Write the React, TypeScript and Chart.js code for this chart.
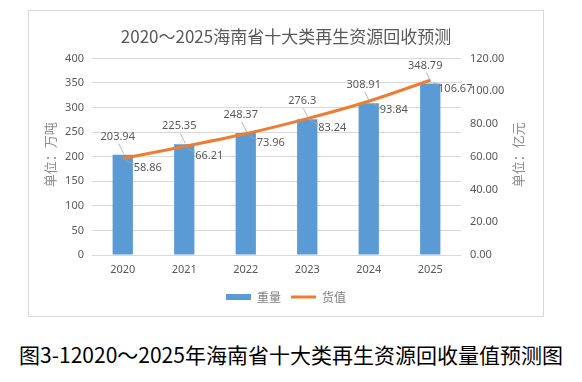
import React, { useEffect, useRef } from "react";
import { Chart, registerables } from "chart.js";

Chart.register(...registerables);

const years = ["2020", "2021", "2022", "2023", "2024", "2025"];
const weights = [203.94, 225.35, 248.37, 276.3, 308.91, 348.79];
const values = [58.86, 66.21, 73.96, 83.24, 93.84, 106.67];
const weightLabels = ["203.94", "225.35", "248.37", "276.3", "308.91", "348.79"];
const valueLabels = ["58.86", "66.21", "73.96", "83.24", "93.84", "106.67"];
const seriesNames = ["重量", "货值"];
const chartTitle = "2020～2025海南省十大类再生资源回收预测";
const leftAxisTitle = "单位：万吨";
const rightAxisTitle = "单位：亿元";
const caption = "图3-12020～2025年海南省十大类再生资源回收量值预测图";

const NUM_FONT = "'Noto Sans', 'Liberation Sans', sans-serif";
const CJK_FONT = "'Noto Sans CJK SC', 'Noto Sans', sans-serif";

const labelPlugin = {
  id: "dataLabels",
  afterDatasetsDraw(chart: any) {
    const ctx = chart.ctx;
    ctx.save();
    ctx.font = `11px ${NUM_FONT}`;
    ctx.textAlign = "center";
    ctx.textBaseline = "middle";
    const barMeta = chart.getDatasetMeta(0);
    const lineMeta = chart.getDatasetMeta(1);
    ctx.strokeStyle = "#a6a6a6";
    ctx.lineWidth = 0.8;
    barMeta.data.forEach((el: any, i: number) => {
      const lx = el.x - 5;
      const ly = el.y - 18;
      ctx.beginPath();
      ctx.moveTo(lx + 1, ly + 7);
      ctx.lineTo(el.x + 1, el.y - 1);
      ctx.stroke();
      ctx.fillStyle = "#595959";
      ctx.fillText(weightLabels[i], lx, ly);
    });
    lineMeta.data.forEach((el: any, i: number) => {
      const lx = el.x + 25;
      const ly = el.y + 9;
      ctx.beginPath();
      ctx.moveTo(lx - 14, ly - 3);
      ctx.lineTo(el.x + 3, el.y + 2);
      ctx.stroke();
      ctx.fillStyle = "#595959";
      ctx.fillText(valueLabels[i], lx, ly);
    });
    ctx.restore();
  },
};

const axisTitlePlugin = {
  id: "axisTitles",
  afterDraw(chart: any) {
    const ctx = chart.ctx;
    const area = chart.chartArea;
    const cy = (area.top + area.bottom) / 2 - 2;
    ctx.save();
    ctx.font = `13px ${CJK_FONT}`;
    ctx.fillStyle = "#8c8c8c";
    ctx.textAlign = "center";
    ctx.textBaseline = "middle";
    const draw = (text: string, x: number) => {
      ctx.save();
      ctx.translate(x, cy);
      ctx.rotate(-Math.PI / 2);
      ctx.fillText(text, 0, 0);
      ctx.restore();
    };
    draw(leftAxisTitle, 21);
    draw(rightAxisTitle, chart.width - 25);
    ctx.restore();
  },
};

export default function App() {
  const ref = useRef<HTMLCanvasElement | null>(null);
  useEffect(() => {
    if (!ref.current) return;
    const chart = new Chart(ref.current, {
      type: "bar",
      data: {
        labels: years,
        datasets: [
          {
            type: "bar",
            label: seriesNames[0],
            data: weights,
            backgroundColor: "#5B9BD5",
            borderWidth: 0,
            yAxisID: "y",
            barPercentage: 0.66,
            categoryPercentage: 0.5,
            order: 1,
            pointStyle: "rect",
          } as any,
          {
            type: "line",
            label: seriesNames[1],
            data: values,
            borderColor: "#ED7D31",
            backgroundColor: "#ED7D31",
            borderWidth: 3,
            pointRadius: 0,
            tension: 0.25,
            yAxisID: "y1",
            order: 0,
            pointStyle: "line",
          } as any,
        ],
      },
      options: {
        responsive: false,
        animation: false,
        layout: { padding: { left: 0, right: 0, top: 0, bottom: 3 } },
        plugins: {
          tooltip: { enabled: false },
          title: {
            display: true,
            text: chartTitle,
            color: "#595959",
            font: { size: 17, family: CJK_FONT, weight: "normal" },
            padding: { top: 15, bottom: 12 },
          },
          legend: {
            position: "bottom",
            labels: {
              usePointStyle: true,
              pointStyleWidth: 25,
              boxHeight: 6,
              color: "#7f7f7f",
              font: { size: 12, family: CJK_FONT },
              padding: 10,
              sort: (a: any, b: any) => a.datasetIndex - b.datasetIndex,
            },
          },
        },
        scales: {
          x: {
            grid: { display: false, drawTicks: false },
            border: { display: false },
            ticks: { color: "#595959", font: { size: 11, family: NUM_FONT }, padding: 8 },
            afterFit: (s: any) => {
              s.height = 26;
            },
          },
          y: {
            position: "left",
            min: 0,
            max: 400,
            ticks: { stepSize: 50, color: "#595959", font: { size: 11, family: NUM_FONT }, padding: 8 },
            grid: { color: "#d9d9d9", drawTicks: false },
            border: { display: false },
            afterFit: (s: any) => {
              s.width = 63;
            },
          },
          y1: {
            position: "right",
            min: 0,
            max: 120,
            ticks: {
              stepSize: 20,
              color: "#595959",
              font: { size: 11, family: NUM_FONT },
              padding: 9,
              callback: (v: any) => Number(v).toFixed(2),
            },
            grid: { display: false, drawTicks: false },
            border: { display: false },
            afterFit: (s: any) => {
              s.width = 82;
            },
          },
        },
      } as any,
      plugins: [labelPlugin, axisTitlePlugin],
    });
    return () => chart.destroy();
  }, []);

  return (
    <div style={{ position: "absolute", left: 0, top: 0, width: 582, height: 382, background: "#fff" }}>
      <div
        style={{
          position: "absolute",
          left: 28,
          top: 10,
          width: 516,
          height: 307,
          boxSizing: "border-box",
          border: "1px solid #d9d9d9",
          background: "#fff",
        }}
      >
        <canvas ref={ref} width={514} height={305} style={{ display: "block", width: 514, height: 305 }} />
      </div>
      <div
        style={{
          position: "absolute",
          left: 0,
          top: 340,
          width: 582,
          textAlign: "center",
          fontFamily: CJK_FONT,
          fontSize: 21,
          lineHeight: "28px",
          color: "#000",
          whiteSpace: "nowrap",
        }}
      >
        {caption}
      </div>
    </div>
  );
}
